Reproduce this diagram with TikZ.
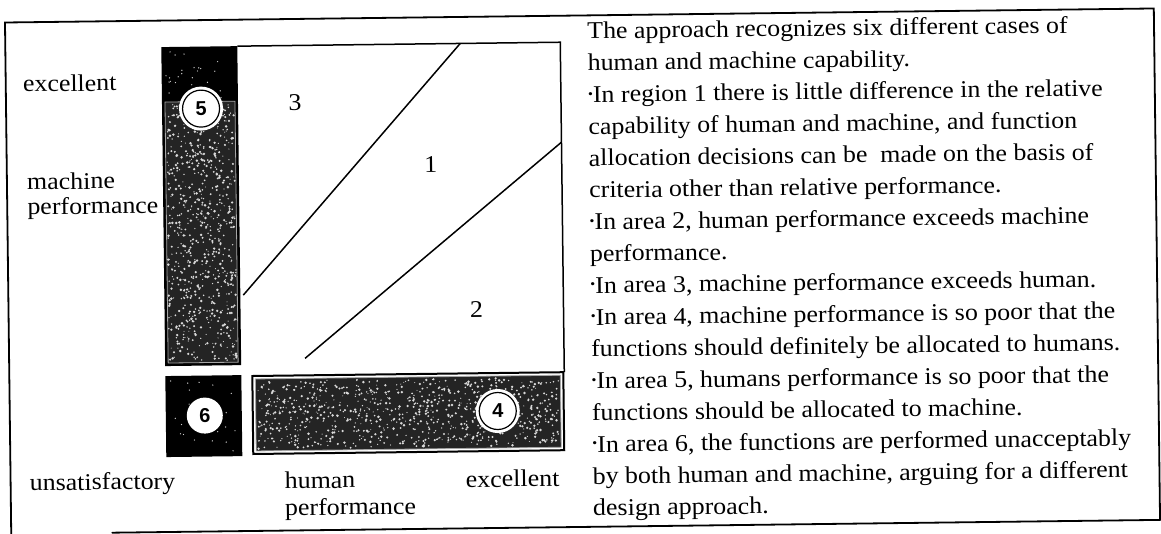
\documentclass[tikz,border=0pt]{standalone}
\usepackage{fontspec}
\setmainfont{Liberation Serif}[FakeStretch=1.08]
\newfontfamily\digitfont{Liberation Sans}
\newcommand\bul{\raisebox{0.18em}{\fontsize{13}{13}\selectfont\symbol{"2022}}}
\begin{document}
\begin{tikzpicture}[x=1pt,y=-1pt,
  frame/.style={line width=1.8pt,line cap=round},
  plotline/.style={line width=1.5pt},
  txt/.style={inner sep=0pt,anchor=base west,font=\fontsize{24}{30}\selectfont},
  region/.style={inner sep=0pt,font=\fontsize{24}{30}\selectfont},
  ringcirc/.style={circle,draw=black,line width=1.2pt,fill=white,minimum size=37pt,inner sep=0pt,
     preaction={draw=white,line width=7pt},font=\digitfont\bfseries\fontsize{20}{20}\selectfont},
  plaincirc/.style={circle,fill=white,minimum size=36pt,inner sep=0pt,
     font=\digitfont\bfseries\fontsize{20}{20}\selectfont}]
\useasboundingbox (0,0) rectangle (1161,534);
\fill[white] (0,0) rectangle (1161,534);
\begin{scope}[rotate around={0.7:(580,267)},transform shape]
% outer frame
\coordinate (fTL) at (8,15.5);
\coordinate (fTR) at (1157,15.5);
\coordinate (fBR) at (1157,527);
\coordinate (fBL) at (109,527);
\coordinate (fLB) at (8,560);
\draw[frame] (fLB) -- (fTL) -- (fTR) -- (fBR);
\draw[frame] (fBL) -- (fBR);
% box 5
\fill[black] (164,42) rectangle (240,361);
\fill[black!86] (167,97) rectangle (237,358);
\draw[white!65!black,line width=0.8pt] (167,97) rectangle (237,358);
% box 6
\fill[black] (164,371) rectangle (240,452);
% box 4
\fill[black!86] (254,375) rectangle (559,447);
\draw[white!65!black,line width=0.8pt] (254,375) rectangle (559,447);
\draw[black,line width=2pt] (251,372) rectangle (562,450);
% speckles
\pgfmathsetseed{11}
\foreach \i in {1,...,750}{
  \pgfmathsetmacro\px{168+68*rnd}\pgfmathsetmacro\py{99+257*rnd}\pgfmathsetmacro\pr{0.5+0.9*rnd}
  \fill[white!85!black] (\px,\py) circle (\pr pt);
}
\foreach \i in {1,...,850}{
  \pgfmathsetmacro\px{256+301*rnd}\pgfmathsetmacro\py{377+68*rnd}\pgfmathsetmacro\pr{0.5+0.9*rnd}
  \fill[white!85!black] (\px,\py) circle (\pr pt);
}
\foreach \i in {1,...,25}{
  \pgfmathsetmacro\px{168+68*rnd}\pgfmathsetmacro\py{45+50*rnd}
  \fill[white!80!black] (\px,\py) circle (0.7pt);
  \pgfmathsetmacro\qx{168+68*rnd}\pgfmathsetmacro\qy{374+75*rnd}
  \fill[white!80!black] (\qx,\qy) circle (0.7pt);
}
% plot frame
\draw[plotline] (240,42) -- (563,42) -- (563,372);
% diagonals
\coordinate (a1) at (243,291);
\coordinate (a2) at (463,42);
\coordinate (b1) at (304,355);
\coordinate (b2) at (563,142);
\draw[plotline] (a1) -- (a2);
\draw[plotline] (b1) -- (b2);
% region labels
\node[region] (r3) at (297,99) {3};
\node[region] (r1) at (432,163) {1};
\node[region] (r2) at (476,308) {2};
% circles
\node[ringcirc] (c5) at (203,104) {5};
\node[plaincirc] (c6) at (203,411) {6};
\node[ringcirc] (c4) at (496,410) {4};
% axis labels
\node[txt] (lexc) at (25,85) {excellent};
\node[txt] (lmach) at (28,183) {machine};
\node[txt] (lperf) at (28,208) {performance};
\node[txt] (lunsat) at (27,484) {unsatisfactory};
\node[txt] (lhum) at (282,485) {human};
\node[txt] (lhperf) at (282,512) {performance};
\node[txt,anchor=base east] (lexc2) at (557,486) {excellent};
% right text
\foreach [count=\k] \s in {
 {The approach recognizes six different cases of},
 {human and machine capability.},
 {\bul In region 1 there is little difference in the relative},
 {capability of human and machine, and function},
 {allocation decisions can be\ \ made on the basis of},
 {criteria other than relative performance.},
 {\bul In area 2, human performance exceeds machine},
 {performance.},
 {\bul In area 3, machine performance exceeds human.},
 {\bul In area 4, machine performance is so poor that the},
 {functions should definitely be allocated to humans.},
 {\bul In area 5, humans performance is so poor that the},
 {functions should be allocated to machine.},
 {\bul In area 6, the functions are performed unacceptably},
 {by both human and machine, arguing for a different},
 {design approach.}}{
  \node[txt] (t\k) at (590,{39+31.8*(\k-1)}) {\s};
}
\end{scope}
\end{tikzpicture}
\end{document}
